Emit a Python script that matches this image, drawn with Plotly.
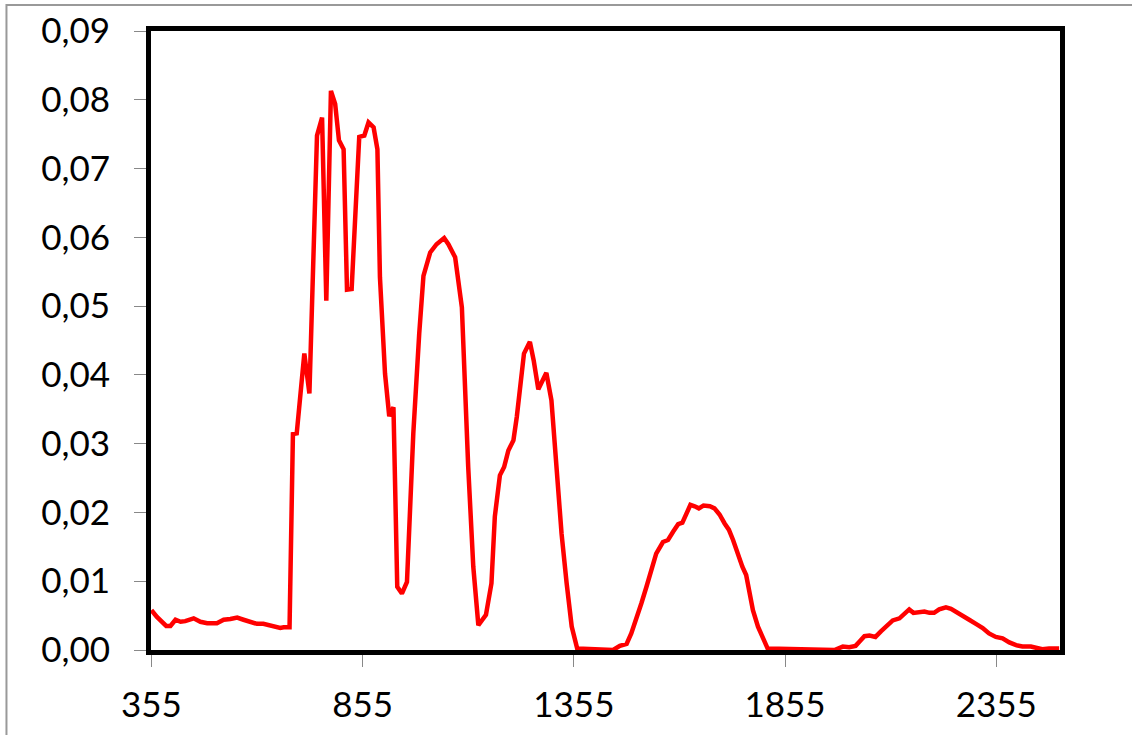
import plotly.graph_objects as go

# wavelength (nm) and value
wavelength = [355, 368, 390, 400, 412, 424, 435, 455, 471, 487, 510, 526, 542, 558, 573,
              589, 605, 620, 636, 648, 660, 668, 682,
              690, 699, 717, 729, 747, 759, 769, 780, 790, 799, 810, 818, 829, 847, 859,
              869, 881, 890, 896, 908, 918, 928, 937, 948, 960, 975, 989, 999, 1015, 1030,
              1048, 1058, 1074, 1090, 1105, 1117, 1129, 1147, 1160, 1168, 1180, 1190, 1200,
              1212, 1220, 1237, 1251, 1260, 1271, 1290, 1302, 1314, 1326, 1338, 1350, 1363,
              1448, 1464, 1480, 1491, 1503, 1515, 1527, 1539, 1550, 1566, 1578, 1590, 1602,
              1612, 1621, 1631, 1641, 1651, 1662, 1677, 1688, 1700, 1712, 1722, 1732, 1743,
              1754, 1763, 1771, 1779, 1791, 1803, 1814,
              1972, 1992, 2007, 2022, 2031, 2043, 2055, 2069, 2082, 2096, 2110, 2126, 2138,
              2149, 2159, 2173, 2185, 2197, 2208, 2220, 2236, 2248, 2260, 2275, 2291, 2307,
              2323, 2338, 2354, 2370, 2386, 2402, 2417, 2437, 2449, 2464, 2480, 2504]

values = [0.0058, 0.0048, 0.0035, 0.0035, 0.0044, 0.0041, 0.0042, 0.0046, 0.0041, 0.0039,
          0.0039, 0.0044, 0.0045, 0.0047, 0.0044, 0.0041, 0.0038, 0.0038, 0.0036, 0.0035,
          0.0032, 0.0033, 0.0033,
          0.0314, 0.0315, 0.0431, 0.0373, 0.0748, 0.0774, 0.0508, 0.0813, 0.0794, 0.0741,
          0.0728, 0.0524, 0.0525, 0.0746, 0.0748, 0.0767, 0.0760, 0.0728, 0.0542, 0.0402,
          0.0340, 0.0353, 0.0092, 0.0082, 0.0099, 0.0315, 0.0460, 0.0544, 0.0578, 0.0590,
          0.0599, 0.0590, 0.0571, 0.0498, 0.0266, 0.0121, 0.0036, 0.0051, 0.0097, 0.0194,
          0.0254, 0.0266, 0.0290, 0.0305, 0.0339, 0.0431, 0.0448, 0.0421, 0.0379, 0.0403,
          0.0363, 0.0266, 0.0169, 0.0097, 0.0034, 0.0002,
          0.0, 0.0006, 0.0009, 0.0024, 0.0044, 0.0068, 0.0092, 0.0116, 0.0140, 0.0157,
          0.0160, 0.0172, 0.0183, 0.0185, 0.0198, 0.0211, 0.0209, 0.0206, 0.0210, 0.0209,
          0.0206, 0.0197, 0.0184, 0.0175, 0.0160, 0.0140, 0.0121, 0.0109, 0.0087, 0.0058,
          0.0034, 0.0015, 0.0002,
          0.0, 0.0005, 0.0004, 0.0006, 0.0012, 0.0020, 0.0021, 0.0019, 0.0027, 0.0036,
          0.0043, 0.0046, 0.0053, 0.0059, 0.0054, 0.0055, 0.0056, 0.0054, 0.0054, 0.0059,
          0.0062, 0.0060, 0.0056, 0.0050, 0.0044, 0.0038, 0.0032, 0.0024, 0.0019, 0.0017,
          0.0011, 0.0007, 0.0005, 0.0005, 0.0003, 0.0001, 0.0002, 0.0002]

x_ticks = [355, 855, 1355, 1855, 2355]
y_ticks = [0, 0.01, 0.02, 0.03, 0.04, 0.05, 0.06, 0.07, 0.08, 0.09]

font = dict(family="Lato", size=35, color="black")

fig = go.Figure()
fig.add_trace(go.Scatter(
    x=wavelength, y=values, mode="lines",
    line=dict(color="#ff0000", width=4.5),
    showlegend=False,
))

fig.update_layout(
    width=1132, height=735,
    margin=dict(l=151, r=72, t=31, b=85),
    paper_bgcolor="white", plot_bgcolor="white",
    separators=",.",
    font=font,
    xaxis=dict(
        range=[354, 2506], tickvals=x_ticks, ticktext=[str(v) for v in x_ticks],
        showgrid=False, zeroline=False, automargin=False,
        showline=True, linecolor="black", linewidth=5, mirror=True,
        ticks="outside", ticklen=12, tickcolor="#888888", tickwidth=1,
        ticklabelstandoff=8, layer="below traces", tickfont=font,
    ),
    yaxis=dict(
        range=[0, 0.09], tickvals=y_ticks, tickformat=".2f",
        showgrid=False, zeroline=False, automargin=False,
        showline=True, linecolor="black", linewidth=5, mirror=True,
        ticks="outside", ticklen=12, tickcolor="#888888", tickwidth=1,
        ticklabelstandoff=17, layer="below traces", tickfont=font,
    ),
)

# outer chart-area frame (gray line near the top-left edge of the picture)
fig.add_shape(type="rect", xref="paper", yref="paper",
              x0=-0.159, x1=1.09, y0=-0.16, y1=1.042,
              line=dict(color="#999999", width=2), layer="below")

# drop the default 8px page margin so the figure sits at the window corner
fig.write_html("out.html", config={"displayModeBar": False},
               post_script="document.body.style.margin='0';")
